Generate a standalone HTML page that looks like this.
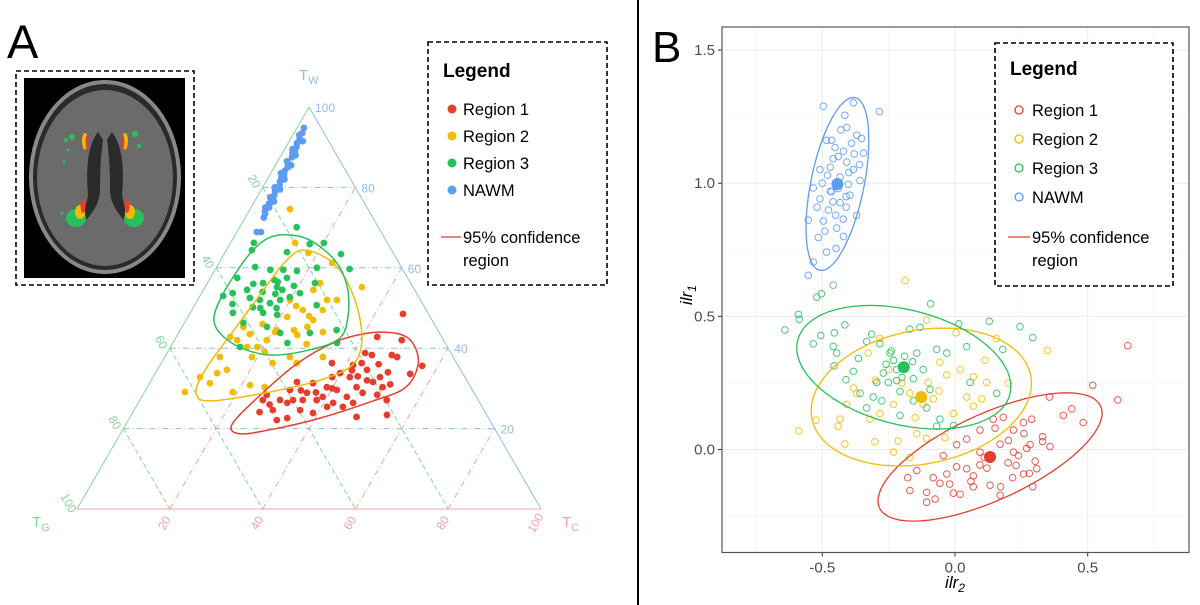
<!DOCTYPE html>
<html><head><meta charset="utf-8"><style>
body{margin:0;background:#fff;}
svg{display:block;font-family:"Liberation Sans",sans-serif;}
</style></head><body>
<svg id="fig" width="1200" height="605" viewBox="0 0 1200 605" xmlns="http://www.w3.org/2000/svg">
<rect x="0" y="0" width="1200" height="605" fill="#fff"/>
<line x1="638" y1="0" x2="638" y2="605" stroke="#000" stroke-width="2"/>
<text x="7" y="58" font-size="47">A</text>
<text x="652" y="62" font-size="44">B</text>

<g>
<rect x="16" y="71" width="178" height="214" fill="none" stroke="#000" stroke-width="1.6" stroke-dasharray="5,3"/>
<rect x="24" y="78" width="161" height="200" fill="#000"/>
<ellipse cx="105" cy="177" rx="76" ry="97" fill="#888"/>
<ellipse cx="105" cy="177" rx="72" ry="93" fill="#2a2a2a"/>
<ellipse cx="105" cy="178" rx="68" ry="88" fill="#6b6b6b"/>
<path d="M98 132 Q84 150 88 195 Q86 210 76 218 L86 220 Q100 205 100 190 Q100 160 103 140 Z" fill="#2b2b2b"/>
<path d="M112 132 Q126 150 122 195 Q124 210 134 218 L124 220 Q110 205 110 190 Q110 160 107 140 Z" fill="#2b2b2b"/>
<path d="M84 133 Q80 140 84 150 L87 148 Q84 140 87 134 Z" fill="#f2bb05"/>
<path d="M87 135 Q84 142 87 150 L89 148 Q87 141 89 136 Z" fill="#e53e2e"/>
<path d="M126 133 Q130 140 126 150 L123 148 Q126 140 123 134 Z" fill="#f2bb05"/>
<path d="M123 135 Q126 142 123 150 L121 148 Q123 141 121 136 Z" fill="#e53e2e"/>
<ellipse cx="76" cy="218" rx="10" ry="9" fill="#27c15b"/>
<ellipse cx="80" cy="212" rx="5" ry="7" fill="#f2bb05"/>
<ellipse cx="83" cy="206" rx="2.5" ry="7" fill="#e53e2e"/>
<ellipse cx="134" cy="218" rx="10" ry="9" fill="#27c15b"/>
<ellipse cx="130" cy="212" rx="5" ry="7" fill="#f2bb05"/>
<ellipse cx="127" cy="206" rx="2.5" ry="7" fill="#e53e2e"/>
<circle cx="72" cy="137" r="3" fill="#27c15b"/><circle cx="66" cy="140" r="2" fill="#27c15b"/><circle cx="68" cy="150" r="1.5" fill="#27c15b"/><circle cx="64" cy="162" r="1.5" fill="#27c15b"/>
<circle cx="135" cy="134" r="3" fill="#27c15b"/><circle cx="139" cy="146" r="2" fill="#27c15b"/><circle cx="62" cy="213" r="1.5" fill="#27c15b"/>
</g>

<g id="ternary"></g>
<g id="scatter"></g>

<g>
<rect x="428" y="42" width="179" height="243" fill="#fff" stroke="#000" stroke-width="1.6" stroke-dasharray="5,3"/>
<text x="443" y="77" font-size="19" font-weight="bold">Legend</text>
<g font-size="16.5">
<circle cx="452" cy="109" r="4.5" fill="#e53e2e"/><text x="463" y="115">Region 1</text>
<circle cx="452" cy="136" r="4.5" fill="#f2bb05"/><text x="463" y="142">Region 2</text>
<circle cx="452" cy="163" r="4.5" fill="#27c15b"/><text x="463" y="169">Region 3</text>
<circle cx="452" cy="190" r="4.5" fill="#5c9cf5"/><text x="463" y="196">NAWM</text>
<line x1="441" y1="237" x2="461" y2="237" stroke="#e53e2e" stroke-width="1.3"/>
<text x="463" y="243">95% confidence</text>
<text x="463" y="266">region</text>
</g></g>

<g>
<rect x="995" y="43" width="178" height="243" fill="#fff" stroke="#000" stroke-width="1.6" stroke-dasharray="5,3"/>
<text x="1010" y="75" font-size="19" font-weight="bold">Legend</text>
<g font-size="16.5">
<circle cx="1019" cy="110" r="4" fill="none" stroke="#e53e2e" stroke-width="1.3"/><text x="1032" y="116">Region 1</text>
<circle cx="1019" cy="139" r="4" fill="none" stroke="#f2bb05" stroke-width="1.3"/><text x="1032" y="145">Region 2</text>
<circle cx="1019" cy="168" r="4" fill="none" stroke="#27c15b" stroke-width="1.3"/><text x="1032" y="174">Region 3</text>
<circle cx="1019" cy="197" r="4" fill="none" stroke="#5c9cf5" stroke-width="1.3"/><text x="1032" y="203">NAWM</text>
<line x1="1008" y1="237" x2="1030" y2="237" stroke="#e53e2e" stroke-width="1.3"/>
<text x="1032" y="243">95% confidence</text>
<text x="1032" y="266">region</text>
</g></g>
</svg>
<script>
// ===== Ternary data: [C %, W %] pairs (G = 100 - C - W)
const ternTicks = [20, 40, 60, 80, 100];
const ternRegion1 = [[46,48.5],[43.3,42.8],[49,42],[42.7,38.8],[44.4,38.3],[48.7,38.3],[50.1,37.8],[56.6,35.6],[55,33.6],[41.6,35.8],[43.2,36.3],[48.9,32.8],[48,31.6],[50.7,30.3],[36.8,36.3],[39.8,33.8],[42.4,32.8],[45.1,30.3],[47.1,28.9],[50.5,28.4],[53.2,27.1],[55.1,23.4],[38.6,32.8],[38.7,30.3],[41.2,29.6],[44.2,27.9],[46.3,26.4],[42,26.4],[39,27.9],[35.2,31.3],[35.1,28.9],[38.1,27.1],[31.6,31.6],[31.1,29.6],[33,27.1],[35.8,24.6],[38.9,23.9],[32.1,26.4],[30.2,27.1],[29.9,24.6],[26.5,27.1],[27.3,24.1],[32,22.1],[34,22.6],[26.7,28.4],[48.8,22.9],[44.6,25.4],[45.2,34.6],[41.2,25.4],[35.1,27.1],[47,36],[40,30],[44,33],[37,29],[52,31],[46.5,32],[42,34.5],[33.5,29.5],[28.5,26],[50,34]];
const ternRegion2 = [[8.6,74.6],[33.8,55.2],[13.9,66.2],[18,63.7],[24.4,61.2],[24.3,56.2],[23.7,54.5],[27.9,52],[28.2,49.5],[30,52],[27.4,47],[27,45.3],[25.8,43.3],[31,44],[21.4,47.8],[20.8,44.5],[19.9,42],[18.7,40.3],[16.5,40.3],[13.5,42],[11.6,42.8],[13.2,45.3],[18.8,37.8],[24,36.3],[27,37.8],[34.1,37.8],[29.2,36.3],[11.9,37.8],[15,34.6],[13.3,33.8],[13,31.3],[10.1,32.8],[8.7,29.1],[19,29.1],[21.9,30.8],[25.3,30.3],[20.7,44],[23.9,49.5],[19.9,52],[22,50.5],[26,48],[17,46],[29,41],[24.5,44.5],[21,39],[15.5,43.5]];
const ternRegion3 = [[12.3,70.1],[17.2,65.9],[20.1,66.2],[25.2,63.4],[28.9,59.7],[5,66.2],[5.5,64.4],[13.3,63.9],[8.3,60.2],[5.8,57.5],[11.9,59.5],[14.7,59.5],[17.8,59.2],[21.7,60],[5,53],[6.7,53.7],[9.4,54.5],[12,56.2],[15.5,55.2],[17.8,52],[16,51.2],[13.4,52],[12.8,50.2],[19.5,52.7],[21.2,53.7],[23.2,56.2],[26.3,50.7],[9.2,48.8],[12.7,46.3],[15.7,48.8],[19,48.3],[18.3,45.3],[21.9,43.8],[28.3,43.8],[33.7,44.5],[35.4,41.3],[15,40.3],[24.7,41.3],[14,57],[10,56],[16,53.5],[18,50],[13,54],[15,56.5],[17,54.5],[11,52.5],[14.5,50],[16.5,57.5],[8,51],[19,55.5]];
const ternNAWM = [[1.5,94.8],[1.8,93.5],[2,92],[1.9,91],[2.3,90],[2.2,88.5],[2.6,87.5],[2.5,86],[2.9,85],[2.7,84],[3.1,83],[3,81.5],[3.4,80.5],[3.2,79],[3.5,78],[3.7,77],[3.4,76],[3.9,75],[3.8,73.5],[4,72.5],[3.5,74],[2.4,89],[2.8,82.5],[4.3,68.9],[5.2,68.9],[1.4,93],[2.9,91.5],[1.7,89.5],[3.1,88],[2,86.5],[3.4,85.5],[2.2,83.5],[3.7,82],[2.6,80],[4,79.5],[2.9,77.5],[4.2,76.5],[3.1,75]];
const ternRegionOutline1 = [[22.9,20.9],[24.8,27.1],[29.1,35.8],[34.8,41.5],[41.2,43.8],[47.8,43.5],[52.2,40.8],[55.6,35.8],[55.6,30.1],[49.8,26.6],[41.1,22.6],[31.7,19.7],[25.7,18.7]];
const ternRegionOutline2 = [[16.9,64.4],[25.3,60.7],[33.9,52],[40.4,42],[41.4,35.8],[36.4,32.1],[27,29.1],[15.3,26.9],[11.2,28.9],[10.3,34.6],[11.4,43.3],[12.8,53.2],[14.1,61.4]];
const ternRegionOutline3 = [[10.7,68.2],[16.7,66.9],[24.6,61.9],[30.3,55.7],[34.3,48.3],[35.4,42.5],[30.4,39.6],[22.4,38.3],[13.7,40.8],[6.8,45.8],[4.8,52],[5.2,61.9],[7,66.9]];

// ===== ilr scatter data
const xTicks = [-0.5, 0.0, 0.5];
const yTicks = [0.0, 0.5, 1.0, 1.5];
const ilrRegion1X = [0.651,0.519,0.613,0.356,0.44,0.408,0.483,0.358,0.33,0.289,0.258,0.22,0.182,0.151,0.201,0.27,0.239,0.302,0.308,0.258,0.217,0.172,0.293,0.17,0.132,0.094,0.069,0.044,0.006,-0.031,-0.057,-0.082,-0.107,-0.144,-0.17,-0.178,-0.107,-0.075,-0.006,0.019,0.069,0.094,0.006,-0.044,0.144,0.094,0.044,0.22,0.283,0.2,0.26,0.12,0.17,0.06,0.33,0.23,-0.02,0.11,0.28];
const ilrRegion1Y = [0.39,0.241,0.186,0.197,0.153,0.128,0.101,0.011,0.048,0.114,0.101,0.073,0.121,0.08,0.034,0.004,-0.023,-0.044,-0.072,-0.092,-0.106,-0.14,-0.14,-0.172,-0.134,-0.058,-0.099,-0.072,-0.065,-0.092,-0.127,-0.106,-0.161,-0.079,-0.154,-0.106,-0.198,-0.186,-0.164,-0.168,-0.14,-0.01,0.018,-0.023,0.114,0.073,0.039,-0.01,0.018,-0.05,0.06,-0.07,0.02,-0.12,0.03,-0.06,-0.13,-0.03,-0.09];
const ilrRegion2X = [-0.188,-0.107,0.004,0.157,0.348,0.201,0.113,0.069,0.044,0.069,-0.006,-0.057,-0.031,-0.101,-0.17,-0.232,-0.283,-0.32,-0.371,-0.408,-0.433,-0.524,-0.588,-0.415,-0.302,-0.232,-0.214,-0.144,-0.107,-0.038,-0.283,-0.327,-0.383,-0.082,0.119,-0.17,-0.44,-0.2,-0.25,-0.12,-0.06,0.02,0.1,-0.3,-0.15];
const ilrRegion2Y = [0.635,0.486,0.438,0.417,0.372,0.249,0.335,0.273,0.197,0.163,0.135,0.328,0.28,0.252,0.211,0.169,0.135,0.114,0.211,0.169,0.114,0.11,0.07,0.021,0.029,-0.01,0.032,0.059,0.041,0.045,0.417,0.362,0.231,0.19,0.252,-0.03,0.087,0.25,0.3,0.17,0.22,0.3,0.19,0.26,0.12];
const ilrRegion3X = [-0.641,-0.59,-0.587,-0.521,-0.503,-0.534,-0.506,-0.455,-0.415,-0.459,-0.446,-0.456,-0.411,-0.364,-0.333,-0.314,-0.283,-0.245,-0.232,-0.27,-0.295,-0.251,-0.22,-0.207,-0.157,-0.144,-0.17,-0.132,-0.092,-0.069,-0.031,0.014,0.044,0.057,0.129,0.18,0.245,0.293,0.157,-0.069,-0.006,-0.157,-0.107,-0.057,-0.333,-0.276,-0.094,-0.358,-0.383,-0.308,-0.207,-0.19,-0.22,-0.16,-0.26,-0.12,-0.2,-0.24];
const ilrRegion3Y = [0.449,0.507,0.489,0.572,0.585,0.397,0.428,0.438,0.468,0.387,0.362,0.314,0.262,0.342,0.406,0.433,0.397,0.362,0.335,0.287,0.252,0.252,0.259,0.218,0.266,0.362,0.452,0.459,0.547,0.376,0.362,0.472,0.386,0.252,0.482,0.376,0.461,0.42,0.211,0.087,0.09,0.183,0.156,0.114,0.156,0.183,0.225,0.211,0.293,0.197,0.128,0.35,0.3,0.33,0.32,0.3,0.27,0.37];
const ilrNAWMX = [-0.415,-0.352,-0.345,-0.408,-0.484,-0.452,-0.383,-0.358,-0.371,-0.421,-0.446,-0.509,-0.534,-0.553,-0.515,-0.484,-0.448,-0.534,-0.553,-0.459,-0.396,-0.433,-0.477,-0.496,-0.408,-0.459,-0.509,-0.496,-0.285,-0.383,-0.465,-0.433,-0.465,-0.402,-0.42,-0.47,-0.39,-0.44,-0.5,-0.41,-0.46,-0.37,-0.43,-0.48,-0.4,-0.45,-0.52,-0.38,-0.42,-0.49,-0.36,-0.44,-0.47,-0.41];
const ilrNAWMY = [1.255,1.168,1.113,1.209,1.161,1.134,1.051,1.01,0.879,0.865,0.831,0.941,0.982,0.861,0.796,0.741,0.755,0.704,0.654,0.617,0.955,0.927,0.899,0.858,1.079,1.092,1.051,1.289,1.269,1.302,1.161,1.023,0.968,0.996,1.12,1.06,1.15,0.98,1.0,0.91,0.93,1.18,1.2,1.03,1.04,0.88,0.91,1.11,0.8,0.82,1.07,1.1,0.97,0.95];
// ellipses: center (x,y), conjugate semi-diameters u=(ux,uy), v=(vx,vy)
const ellipseCenterX = [0.132, -0.127, -0.193, -0.443];
const ellipseCenterY = [-0.028, 0.197, 0.309, 0.997];
const ellipseUX = [0.289, 0.083, -0.127, 0.06];
const ellipseUY = [0.241, 0.259, 0.232, 0.325];
const ellipseVX = [0.308, 0.407, 0.383, 0.102];
const ellipseVY = [0, 0, 0, 0];

const NS = "http://www.w3.org/2000/svg";
const COLORS = ["#e53e2e", "#f2bb05", "#27c15b", "#5c9cf5"];
function mk(tag, attrs, parent) {
  const e = document.createElementNS(NS, tag);
  for (const k in attrs) e.setAttribute(k, attrs[k]);
  parent.appendChild(e);
  return e;
}

// ---------- Ternary ----------
const tg = document.getElementById("ternary");
const BLx = 77, BLy = 509, SIDE = 464, HGT = 402;
function tx(c, w) { return BLx + (c / 100 + w / 200) * SIDE; }
function ty(c, w) { return BLy - (w / 100) * HGT; }
const cW = "#8fbde6", cG = "#86d49d", cC = "#f0a3a3";
ternTicks.slice(0, 4).forEach(function (t) {
  let l = mk("line", {x1: tx(0, t), y1: ty(0, t), x2: tx(100 - t, t), y2: ty(100 - t, t), stroke: cW, "stroke-width": 1, "stroke-dasharray": "6,3,1,3"}, tg);
  
  
  l = mk("line", {x1: tx(0, 100 - t), y1: ty(0, 100 - t), x2: tx(100 - t, 0), y2: ty(100 - t, 0), stroke: cG, "stroke-width": 1, "stroke-dasharray": "5,3"}, tg);
  
  
  l = mk("line", {x1: tx(t, 0), y1: ty(t, 0), x2: tx(t, 100 - t), y2: ty(t, 100 - t), stroke: cC, "stroke-width": 1, "stroke-dasharray": "6,3,1,3"}, tg);
  
  
});
let e1 = mk("line", {x1: tx(0, 0), y1: ty(0, 0), x2: tx(0, 100), y2: ty(0, 100), stroke: cG, "stroke-width": 1}, tg);


let e2 = mk("line", {x1: tx(0, 100), y1: ty(0, 100), x2: tx(100, 0), y2: ty(100, 0), stroke: cW, "stroke-width": 1}, tg);


let e3 = mk("line", {x1: tx(0, 0), y1: ty(0, 0), x2: tx(100, 0), y2: ty(100, 0), stroke: cC, "stroke-width": 1}, tg);


ternTicks.forEach(function (t) {
  let a = mk("text", {x: tx(100 - t, t) + 6, y: ty(100 - t, t) + 5, fill: cW, "font-size": 12}, tg);
  a.textContent = t;
  
  
  const gx = tx(0, 100 - t) - 12, gy = ty(0, 100 - t) - 4;
  let b = mk("text", {x: gx, y: gy, fill: cG, "font-size": 12, "text-anchor": "middle", transform: "rotate(60 " + gx + " " + gy + ")"}, tg);
  b.textContent = t;
  
  
  const cx = tx(t, 0) - 2, cy = ty(t, 0) + 16;
  let c = mk("text", {x: cx, y: cy, fill: cC, "font-size": 12, "text-anchor": "middle", transform: "rotate(-60 " + cx + " " + cy + ")"}, tg);
  c.textContent = t;
  
  
});
function axisTitle(x, y, main, sub, col, name) {
  const t = mk("text", {x: x, y: y, fill: col, "font-size": 15}, tg);
  
  
  t.appendChild(document.createTextNode(main));
  const s = mk("tspan", {"font-size": 11, dy: 4}, t);
  s.textContent = sub;
}
axisTitle(299, 80, "T", "W", cW, "ternary-w-title");
axisTitle(32, 527, "T", "G", cG, "ternary-g-title");
axisTitle(562, 527, "T", "C", cC, "ternary-c-title");

[ternRegion1, ternRegion2, ternRegion3, ternNAWM].forEach(function (pts, i) {
  pts.forEach(function (p) {
    const d = mk("circle", {cx: tx(p[0], p[1]), cy: ty(p[0], p[1]), r: 3.4, fill: COLORS[i]}, tg);
    
    
  });
});
function closedSpline(pts) {
  const n = pts.length;
  let d = "M" + pts[0][0].toFixed(1) + " " + pts[0][1].toFixed(1);
  for (let i = 0; i < n; i++) {
    const p0 = pts[(i - 1 + n) % n], p1 = pts[i], p2 = pts[(i + 1) % n], p3 = pts[(i + 2) % n];
    const c1 = [p1[0] + (p2[0] - p0[0]) / 6, p1[1] + (p2[1] - p0[1]) / 6];
    const c2 = [p2[0] - (p3[0] - p1[0]) / 6, p2[1] - (p3[1] - p1[1]) / 6];
    d += " C" + c1[0].toFixed(1) + " " + c1[1].toFixed(1) + " " + c2[0].toFixed(1) + " " + c2[1].toFixed(1) + " " + p2[0].toFixed(1) + " " + p2[1].toFixed(1);
  }
  return d + "Z";
}
[ternRegionOutline1, ternRegionOutline2, ternRegionOutline3].forEach(function (o, i) {
  const pp = o.map(function (p) { return [tx(p[0], p[1]), ty(p[0], p[1])]; });
  const path = mk("path", {d: closedSpline(pp), fill: "none", stroke: COLORS[i], "stroke-width": 1.5}, tg);
  
  
});

// ---------- ilr scatter ----------
const sg = document.getElementById("scatter");
const PX0 = 955, PXU = 265.4, PY0 = 449.5, PYU = 266.3;
function sx(v) { return PX0 + v * PXU; }
function sy(v) { return PY0 - v * PYU; }
const L = 722, R = 1189, T = 27, B = 552.5;
[-0.75, -0.25, 0.25, 0.75].forEach(function (v) {
  const g = mk("line", {x1: sx(v), y1: T, x2: sx(v), y2: B, stroke: "#f3f3f3", "stroke-width": 0.6}, sg);
  
  
});
[-0.25, 0.25, 0.75, 1.25].forEach(function (v) {
  const g = mk("line", {x1: L, y1: sy(v), x2: R, y2: sy(v), stroke: "#f3f3f3", "stroke-width": 0.6}, sg);
  
  
});
xTicks.forEach(function (v) {
  const g = mk("line", {x1: sx(v), y1: T, x2: sx(v), y2: B, stroke: "#ebebeb", "stroke-width": 1}, sg);
  
  
  const tk = mk("line", {x1: sx(v), y1: B, x2: sx(v), y2: B + 4, stroke: "#333", "stroke-width": 1}, sg);
  
  
  const t = mk("text", {x: sx(v), y: B + 20, "font-size": 15, fill: "#4d4d4d", "text-anchor": "middle"}, sg);
  t.textContent = v.toFixed(1);
  
  
});
yTicks.forEach(function (v) {
  const g = mk("line", {x1: L, y1: sy(v), x2: R, y2: sy(v), stroke: "#ebebeb", "stroke-width": 1}, sg);
  
  
  const tk = mk("line", {x1: L - 4, y1: sy(v), x2: L, y2: sy(v), stroke: "#333", "stroke-width": 1}, sg);
  
  
  const t = mk("text", {x: L - 7, y: sy(v) + 5, "font-size": 15, fill: "#4d4d4d", "text-anchor": "end"}, sg);
  t.textContent = v.toFixed(1);
  
  
});
const frame = mk("rect", {x: L, y: T, width: R - L, height: B - T, fill: "none", stroke: "#555", "stroke-width": 1.2}, sg);


const xt = mk("text", {x: 955, y: 588, "font-size": 17, "font-style": "italic", "text-anchor": "middle", fill: "#000"}, sg);


xt.appendChild(document.createTextNode("ilr"));
mk("tspan", {"font-size": 12, dy: 4}, xt).textContent = "2";
const yt = mk("text", {x: 692, y: 295, "font-size": 17, "font-style": "italic", "text-anchor": "middle", fill: "#000", transform: "rotate(-90 692 295)"}, sg);


yt.appendChild(document.createTextNode("ilr"));
mk("tspan", {"font-size": 12, dy: 4}, yt).textContent = "1";

[[ilrRegion1X, ilrRegion1Y], [ilrRegion2X, ilrRegion2Y], [ilrRegion3X, ilrRegion3Y], [ilrNAWMX, ilrNAWMY]].forEach(function (s, i) {
  s[0].forEach(function (xv, j) {
    const c = mk("circle", {cx: sx(xv), cy: sy(s[1][j]), r: 3.3, fill: "none", stroke: COLORS[i], "stroke-width": 1, opacity: 0.85}, sg);
    
    
  });
});
ellipseCenterX.forEach(function (cx, i) {
  const cy = ellipseCenterY[i];
  let d = "";
  for (let k = 0; k <= 72; k++) {
    const a = k / 72 * 2 * Math.PI;
    const X = cx + ellipseUX[i] * Math.cos(a) + ellipseVX[i] * Math.sin(a);
    const Y = cy + ellipseUY[i] * Math.cos(a) + ellipseVY[i] * Math.sin(a);
    d += (k ? "L" : "M") + sx(X).toFixed(1) + " " + sy(Y).toFixed(1);
  }
  const p = mk("path", {d: d + "Z", fill: "none", stroke: COLORS[i], "stroke-width": 1.3}, sg);
  
  
  const m = mk("circle", {cx: sx(cx), cy: sy(cy), r: 6, fill: COLORS[i]}, sg);
  
  
});
</script>
</body></html>
